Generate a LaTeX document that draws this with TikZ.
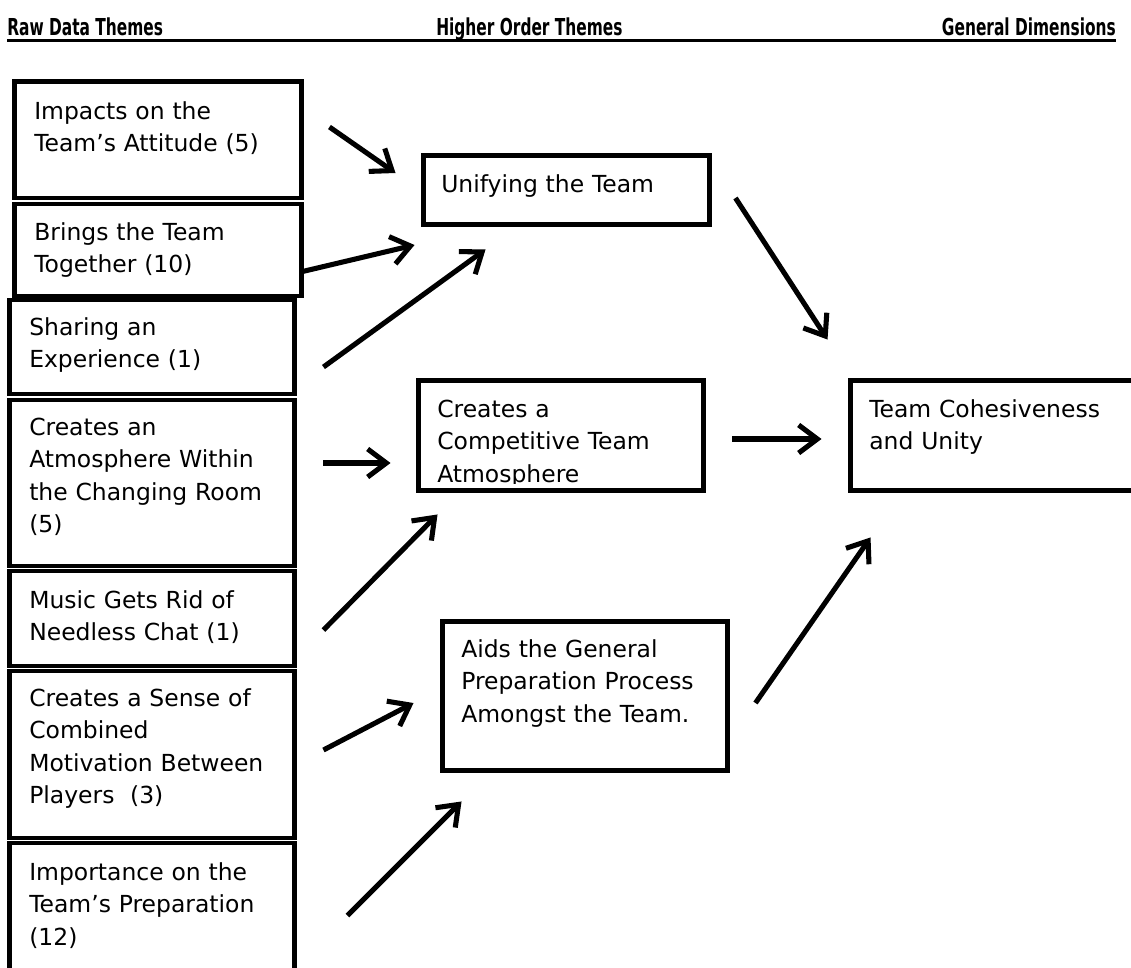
\documentclass[tikz,border=0pt]{standalone}
\usepackage{fontspec}
\usepackage{graphicx}
\setmainfont{DejaVu Sans}
\usetikzlibrary{arrows.meta,fit,calc}
\begin{document}
\begin{tikzpicture}[x=0.75pt,y=-0.75pt,
  box/.style={draw=black, line width=3.7pt, inner sep=0pt, rectangle},
  lbl/.style={anchor=north west, inner sep=0pt, align=left, text width=270pt,
              font=\fontsize{17.6pt}{24.4pt}\selectfont},
  arr/.style={line width=3.8pt, -{Straight Barb[length=14pt,width=21pt]}},
  hdr/.style={inner sep=0pt, font=\fontsize{17.5pt}{20pt}\selectfont\bfseries}]
\useasboundingbox (0,0) rectangle (1131,967);

% column headings
\node[hdr, anchor=base west] (h1) at (7,35) {\scalebox{0.66}[1]{Raw Data Themes}};
\node[hdr, anchor=base west] (h2) at (436,35) {\scalebox{0.66}[1]{Higher Order Themes}};
\node[hdr, anchor=base east] (h3) at (1116,35) {\scalebox{0.66}[1]{General Dimensions}};
\draw[line width=2.3pt] ($(h1.base west)+(0,5.5)$) -- ($(h3.base east)+(0,5.5)$);

% raw data themes (left column)
\path (14.5,81.5) coordinate (r1a) (301.5,198) coordinate (r1b)
      (14.5,204) coordinate (r2a) (301.5,296) coordinate (r2b)
      (9.5,300) coordinate (r3a) (294.5,394) coordinate (r3b)
      (9.5,400) coordinate (r4a) (294.5,566) coordinate (r4b)
      (9.5,571) coordinate (r5a) (294.5,666) coordinate (r5b)
      (9.5,671) coordinate (r6a) (294.5,838) coordinate (r6b)
      (9.5,843) coordinate (r7a) (294.5,1000) coordinate (r7b);
\node[box, fit=(r1a)(r1b)] (raw1) {};
\node[box, fit=(r2a)(r2b)] (raw2) {};
\node[box, fit=(r3a)(r3b)] (raw3) {};
\node[box, fit=(r4a)(r4b)] (raw4) {};
\node[box, fit=(r5a)(r5b)] (raw5) {};
\node[box, fit=(r6a)(r6b)] (raw6) {};
\node[box, fit=(r7a)(r7b)] (raw7) {};

\node[lbl] (raw1t) at (34,96.2) {\strut Impacts on the\\Team’s Attitude (5)};
\node[lbl] (raw2t) at (34,217.2) {\strut Brings the Team\\Together (10)};
\node[lbl] (raw3t) at (29,312.2) {\strut Sharing an\\Experience (1)};
\node[lbl] (raw4t) at (29,412.2) {\strut Creates an\\Atmosphere Within\\the Changing Room\\(5)};
\node[lbl] (raw5t) at (29,585.2) {\strut Music Gets Rid of\\Needless Chat (1)};
\node[lbl] (raw6t) at (29,683.2) {\strut Creates a Sense of\\Combined\\Motivation Between\\Players~~(3)};
\node[lbl] (raw7t) at (29,857.2) {\strut Importance on the\\Team’s Preparation\\(12)};

% higher order themes (middle column)
\path (423.5,155.5) coordinate (uA) (709.5,224.5) coordinate (uB)
      (418.5,380.5) coordinate (cA) (703.5,490.5) coordinate (cB)
      (442.5,621.5) coordinate (aA) (727.5,770.5) coordinate (aB);
\node[box, fit=(uA)(uB)] (uni) {};
\node[box, fit=(cA)(cB)] (comp) {};
\node[box, fit=(aA)(aB)] (aids) {};

\node[lbl] (unit) at (441,169.2) {\strut Unifying the Team};
\begin{scope}
  \clip (420,382) rectangle (702,483);
  \node[lbl] (compt) at (437,394.2) {\strut Creates a\\Competitive Team\\Atmosphere};
\end{scope}
\node[lbl] (aidst) at (461,634.2) {\strut Aids the General\\Preparation Process\\Amongst the Team.};

% general dimension (right column)
\path (850.5,380.5) coordinate (dA) (1145,490.5) coordinate (dB);
\node[box, fit=(dA)(dB)] (dim) {};
\node[lbl] (dimt) at (869,394.2) {\strut Team Cohesiveness\\and Unity};

% links
\draw[arr] ($(raw1.east)+(25.5,-12.75)$) -- ($(uni.west)+(-25.5,-17)$);
\draw[arr] ($(raw2.east)+(-3.5,22)$) -- ($(uni.west)+(-6.5,55)$);
\draw[arr] ($(raw3.east)+(26.5,20)$) -- ($(uni.south west)+(64.5,22.5)$);
\draw[arr] ($(uni.east)+(23.5,8)$) -- ($(dim.north west)+(-20.5,-38.5)$);
\draw[arr] ($(raw4.east)+(26.5,-20)$) -- ($(comp.west)+(-25.5,27.5)$);
\draw[arr] ($(raw5.east)+(26.5,11.5)$) -- ($(comp.south west)+(21.5,21.5)$);
\draw[arr] ($(comp.east)+(26.5,3.5)$) -- ($(dim.west)+(-26.5,3.5)$);
\draw[arr] ($(raw6.east)+(26.5,-4.5)$) -- ($(aids.west)+(-26.5,7)$);
\draw[arr] ($(raw7.north east)+(50.5,75)$) -- ($(aids.south west)+(21.5,28.5)$);
\draw[arr] ($(aids.east)+(25.5,7)$) -- ($(dim.south west)+(22.5,44.5)$);
\end{tikzpicture}
\end{document}
